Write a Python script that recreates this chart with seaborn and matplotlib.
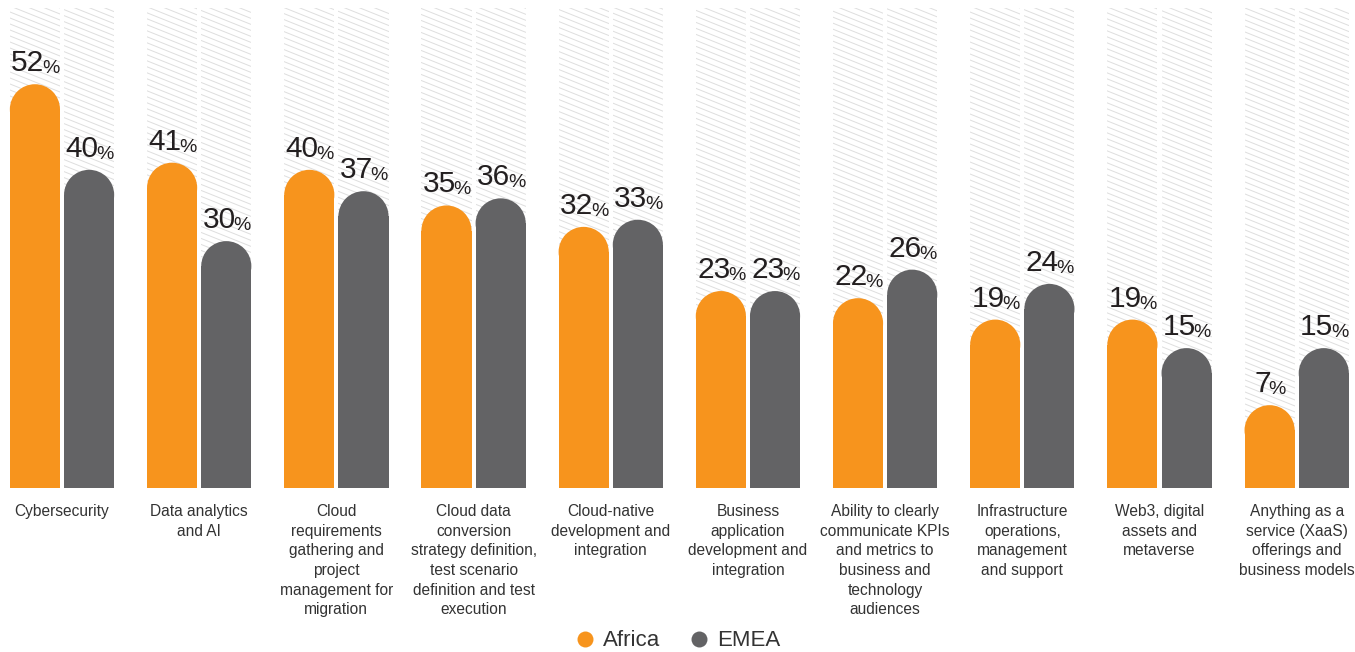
import numpy as np
import pandas as pd
import matplotlib
matplotlib.use("Agg")
import matplotlib.pyplot as plt
import seaborn as sns
from matplotlib.patches import Ellipse
from matplotlib.collections import LineCollection
from matplotlib.lines import Line2D

# ---- data -------------------------------------------------------------
skills = [
    "Cybersecurity",
    "Data analytics\nand AI",
    "Cloud\nrequirements\ngathering and\nproject\nmanagement for\nmigration",
    "Cloud data\nconversion\nstrategy definition,\ntest scenario\ndefinition and test\nexecution",
    "Cloud-native\ndevelopment and\nintegration",
    "Business\napplication\ndevelopment and\nintegration",
    "Ability to clearly\ncommunicate KPIs\nand metrics to\nbusiness and\ntechnology\naudiences",
    "Infrastructure\noperations,\nmanagement\nand support",
    "Web3, digital\nassets and\nmetaverse",
    "Anything as a\nservice (XaaS)\nofferings and\nbusiness models",
]
africa = [52, 41, 40, 35, 32, 23, 22, 19, 19, 7]
emea = [40, 30, 37, 36, 33, 23, 26, 24, 15, 15]
regions = ["Africa", "EMEA"]

# ---- style ------------------------------------------------------------
colors = ["#F7941D", "#636365"]
text_dark = "#231F20"
text_grey = "#333333"
hatch_color = "#DEDEDE"

sns.set_theme(style="white")
plt.rcParams["font.family"] = ["Liberation Sans", "DejaVu Sans"]

df = pd.DataFrame({
    "skill": skills * 2,
    "region": ["Africa"] * len(skills) + ["EMEA"] * len(skills),
    "share": africa + emea,
})

W, H = 1355, 652
AX_BOTTOM, AX_H = 164, 480
fig = plt.figure(figsize=(W / 100, H / 100), dpi=100)
ax = fig.add_axes([0, AX_BOTTOM / H, 1, AX_H / H])

FLOOR, CEIL = -1.1, 66.2
XLIM = (-0.452, 9.425)
bar_kw = dict(x="skill", y="share", hue="region", hue_order=regions,
              width=0.79, gap=0.075, saturation=1, errorbar=None,
              legend=False, ax=ax, linewidth=0)

# striped backdrop columns
backdrop = df.assign(share=CEIL)
sns.barplot(data=backdrop, palette=["white", "white"], zorder=1, **bar_kw)
n_back = len(ax.patches)
# value bars
sns.barplot(data=df, palette=colors, zorder=3, **bar_kw)

ax.set_xlim(*XLIM)
ax.set_ylim(FLOOR, CEIL)

px_x = W / (XLIM[1] - XLIM[0])
px_y = AX_H / (CEIL - FLOOR)

# diagonal stripe segments, in axes fractions
slope, step = 0.4, 6.0
offsets = np.arange(0, AX_H + slope * W + step, step)
segs = [[(0, c / AX_H), (1, (c - slope * W) / AX_H)] for c in offsets]

for p in ax.patches[:n_back]:
    p.set_y(FLOOR)
    p.set_height(CEIL - FLOOR)
    lc = LineCollection(segs, colors=hatch_color, linewidths=0.7,
                        transform=ax.transAxes, zorder=2)
    ax.add_collection(lc)
    lc.set_clip_path(p)

for p in ax.patches[n_back:]:
    v = p.get_height()
    w = p.get_width()
    xc = p.get_x() + w / 2
    p.set_y(FLOOR)
    p.set_height(v - FLOOR)
    r_px = w * px_x / 2
    ry = r_px / px_y
    ax.add_patch(Ellipse((xc, v), w, 2 * ry, facecolor=p.get_facecolor(),
                         edgecolor="none", zorder=3))
    num = ax.annotate(f"{v:g}", xy=(xc, v), xytext=(-7, r_px + 13),
                      textcoords="offset pixels", ha="center", va="baseline",
                      fontsize=21.5, color=text_dark, zorder=5)
    ax.annotate("%", xy=(1, 0), xycoords=num, xytext=(-2.5, 0),
                textcoords="offset pixels", ha="left", va="bottom",
                fontsize=14, color=text_dark, zorder=5)

ax.set_xticks(range(len(skills)))
ax.set_xticklabels(skills, fontsize=11.2, linespacing=1.39, color=text_grey)
ax.tick_params(axis="x", length=0, pad=11.5)
ax.set_yticks([])
ax.set_xlabel("")
ax.set_ylabel("")
sns.despine(ax=ax, left=True, bottom=True)

handles = [Line2D([], [], marker="o", ls="", markersize=11.5,
                  markerfacecolor=c, markeredgecolor="none") for c in colors]
fig.legend(handles, regions, loc="center", bbox_to_anchor=(677 / W, 1 - 641 / H),
           ncol=2, frameon=False, fontsize=16, handletextpad=0.3,
           columnspacing=1.25, handlelength=1.0, labelcolor=text_grey)

fig.savefig("out.png", dpi=100)
